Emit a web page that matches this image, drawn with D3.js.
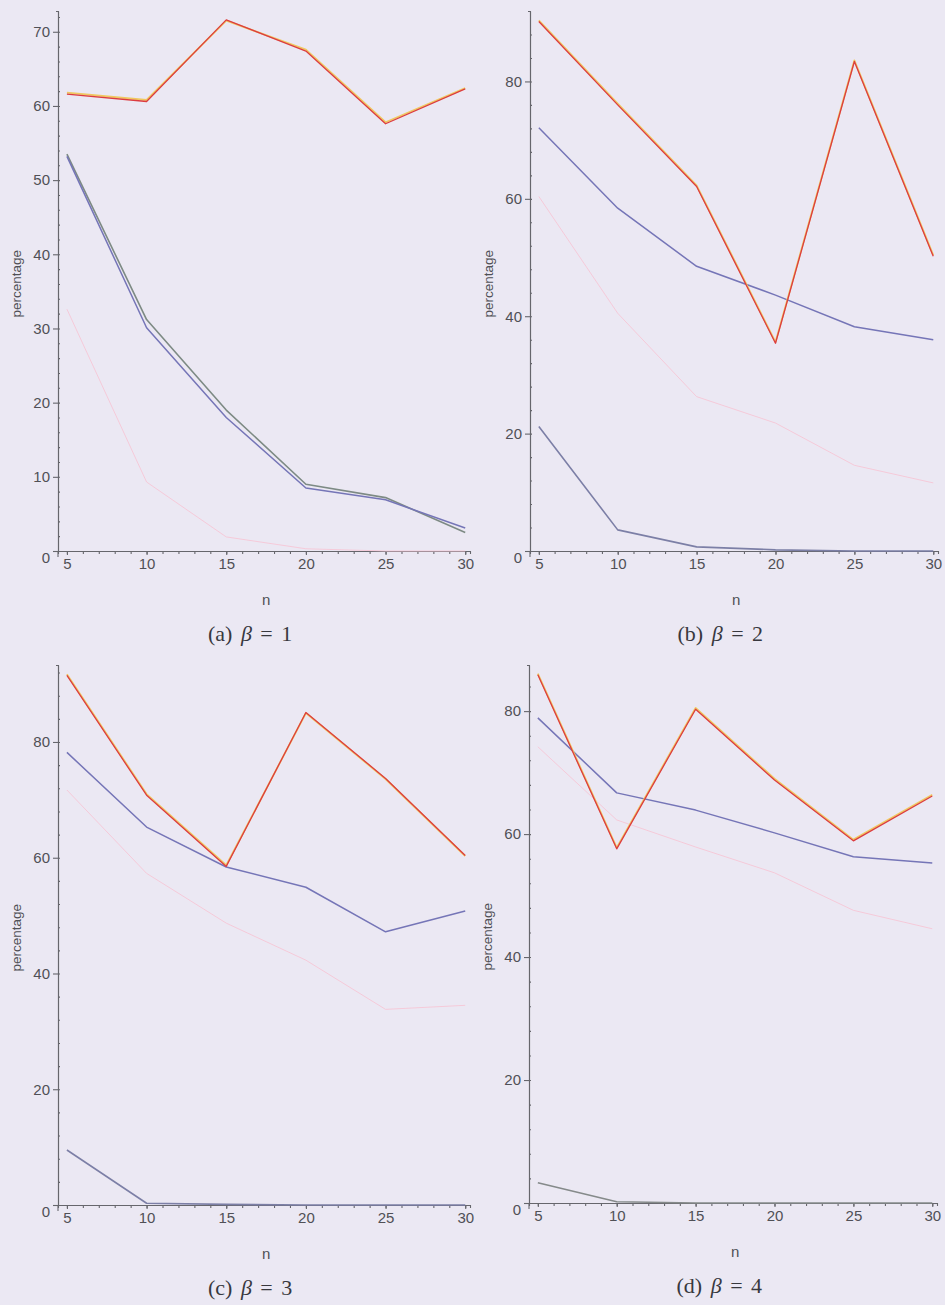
<!DOCTYPE html>
<html>
<head>
<meta charset="utf-8">
<script src="https://cdn.jsdelivr.net/npm/d3@7"></script>
<style>
  body { margin: 0; background: #ebe8f3; }
  svg { display: block; }
</style>
</head>
<body>
<div id="chart"></div>
<script>
// sample sizes on the x axis
const nValues = [5, 10, 15, 20, 25, 30];

// (a) beta = 1
const redA    = [61.6, 60.6, 71.6, 67.4, 57.6, 62.3];
const yellowA = [61.8, 60.8, 71.5, 67.6, 57.8, 62.4];
const blueA   = [53.2, 30.1, 18.0, 8.5, 6.9, 3.1];
const greenA  = [53.5, 31.2, 19.0, 9.0, 7.2, 2.5];
const pinkA   = [32.6, 9.3, 1.9, 0.3, 0.0, 0.0];

// (b) beta = 2
const redB    = [90.2, 76.0, 62.1, 35.4, 83.4, 50.2];
const yellowB = [90.4, 76.2, 62.3, 35.6, 83.6, 50.4];
const blueB   = [72.1, 58.4, 48.5, 43.6, 38.2, 36.0];
const greenB  = [21.2, 3.6, 0.7, 0.2, 0.0, 0.0];
const pinkB   = [60.4, 40.5, 26.3, 21.8, 14.6, 11.6];

// (c) beta = 3
const redC    = [91.5, 70.8, 58.5, 85.1, 73.7, 60.4];
const yellowC = [91.7, 71.0, 58.7, 85.0, 73.6, 60.3];
const blueC   = [78.2, 65.3, 58.4, 54.9, 47.2, 50.8];
const greenC  = [9.5, 0.3, 0.1, 0.0, 0.0, 0.0];
const pinkC   = [71.7, 57.3, 48.7, 42.3, 33.8, 34.5];

// (d) beta = 4
const redD    = [85.9, 57.6, 80.3, 68.8, 58.9, 66.2];
const yellowD = [86.1, 57.8, 80.5, 69.0, 59.1, 66.4];
const blueD   = [78.9, 66.7, 63.9, 60.2, 56.3, 55.3];
const greenD  = [3.3, 0.2, 0.0, 0.0, 0.0, 0.0];
const pinkD   = [74.2, 62.3, 57.9, 53.7, 47.6, 44.6];

const captionLetters = ["a", "b", "c", "d"];
const betaValues = [1, 2, 3, 4];

const panels = [
  {left: 58,  top: 11,  width: 412, height: 540, yMax: 72.8, yStep: 10, yMinor: 2,
   lowColor: "#7d8a84",
   series: [yellowA, redA, greenA, blueA, pinkA]},
  {left: 530, top: 11,  width: 408, height: 540, yMax: 92.0, yStep: 20, yMinor: 4,
   lowColor: "#7c7fa6",
   series: [yellowB, redB, greenB, blueB, pinkB]},
  {left: 58,  top: 665, width: 412, height: 540, yMax: 93.3, yStep: 20, yMinor: 4,
   lowColor: "#7c7fa6",
   series: [yellowC, redC, greenC, blueC, pinkC]},
  {left: 529, top: 665, width: 408, height: 538, yMax: 87.5, yStep: 20, yMinor: 4,
   lowColor: "#858a8a",
   series: [yellowD, redD, greenD, blueD, pinkD]}
];

// yellow, red, green(low), blue, pink
const colors = ["#f0c860", "#dc3c40", null, "#7575b7", "#f6c6d6"];
const widths = [1.8, 1.3, 1.6, 1.5, 0.9];
const order = [4, 2, 3, 0, 1];

const svg = d3.select("#chart").append("svg")
    .attr("width", 945)
    .attr("height", 1305);

svg.append("rect")
    .attr("width", 945).attr("height", 1305)
    .attr("fill", "#ebe8f3");

const axisColor = "#66666c";
const labelColor = "#505056";

panels.forEach(function(p, idx) {
    let g = svg.append("g")
        .attr("transform", "translate(" + p.left + "," + p.top + ")");

    let x = d3.scaleLinear()
        .domain([4.44, 30.3])
        .range([0, p.width]);

    let y = d3.scaleLinear()
        .domain([0, p.yMax])
        .range([p.height, 0]);

    // minor y ticks
    g.append("g")
        .call(d3.axisLeft(y).tickValues(d3.range(0, p.yMax, p.yMinor)).tickSize(2).tickFormat(""))
        .call(s => s.selectAll(".tick line").attr("x2", 2));

    // minor x ticks
    g.append("g")
        .attr("transform", "translate(0," + p.height + ")")
        .call(d3.axisBottom(x).tickValues(d3.range(5, 31, 1)).tickSize(3).tickFormat(""));

    // major y axis
    let yAxis = g.append("g")
        .call(d3.axisLeft(y).tickValues(d3.range(0, p.yMax, p.yStep)).tickSize(5).tickSizeOuter(0).tickPadding(3));
    yAxis.selectAll(".tick text").filter(d => d === 0).attr("dy", "0.75em");

    // major x axis
    g.append("g")
        .attr("transform", "translate(0," + p.height + ")")
        .call(d3.axisBottom(x).tickValues(nValues).tickSize(4).tickSizeOuter(0).tickPadding(3));

    g.selectAll(".domain, .tick line")
        .attr("stroke", axisColor)
        .attr("stroke-width", 1.1);
    g.selectAll(".tick text")
        .attr("fill", labelColor)
        .style("font", "15px 'Liberation Sans', Arial, sans-serif");

    // y axis extends a little below the x axis
    g.append("line")
        .attr("x1", 0).attr("x2", 0)
        .attr("y1", p.height).attr("y2", p.height + 6)
        .attr("stroke", axisColor).attr("stroke-width", 1.1);

    let line = d3.line()
        .x((d, i) => x(nValues[i]))
        .y(d => y(d));

    order.forEach(function(k) {
        g.append("path")
            .datum(p.series[k])
            .attr("fill", "none")
            .attr("stroke", colors[k] || p.lowColor)
            .attr("stroke-width", widths[k])
            .attr("stroke-linejoin", "round")
            .attr("d", line);
    });

    // axis titles
    g.append("text")
        .attr("x", x(17.5))
        .attr("y", p.height + 54)
        .attr("text-anchor", "middle")
        .attr("fill", labelColor)
        .style("font", "15px 'Liberation Sans', Arial, sans-serif")
        .text("n");

    g.append("text")
        .attr("transform", "rotate(-90)")
        .attr("x", -(p.height * 0.505))
        .attr("y", -37)
        .attr("text-anchor", "middle")
        .attr("fill", labelColor)
        .style("font", "13.5px 'Liberation Sans', Arial, sans-serif")
        .text("percentage");

    // caption
    let cap = g.append("text")
        .attr("x", x(16.5))
        .attr("y", p.height + 90)
        .attr("text-anchor", "middle")
        .attr("fill", "#38383e")
        .style("font", "22px 'Liberation Serif', 'DejaVu Serif', serif")
        .style("word-spacing", "3px");
    cap.append("tspan").text("(" + captionLetters[idx] + ") ");
    cap.append("tspan").attr("font-style", "italic").text("β");
    cap.append("tspan").text(" = " + betaValues[idx]);
});
</script>
</body>
</html>
